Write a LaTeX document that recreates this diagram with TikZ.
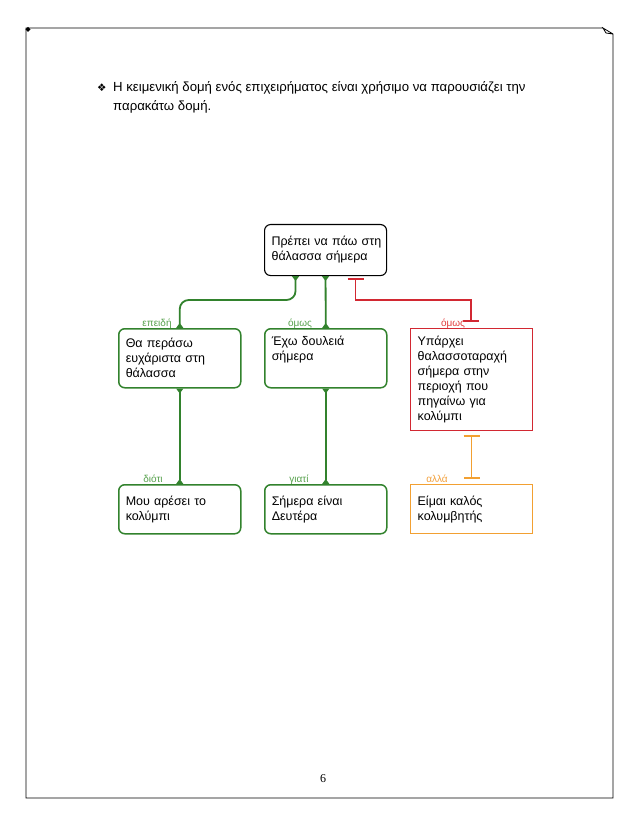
\documentclass[tikz,border=0pt]{standalone}
\usepackage{fontspec}
\setmainfont{Liberation Sans}
\newfontfamily\dejavu{DejaVu Sans}
\newfontfamily\serifnum{Liberation Serif}
\usetikzlibrary{arrows.meta,calc}
\definecolor{gline}{RGB}{50,130,45}
\definecolor{glab}{RGB}{85,160,75}
\definecolor{rline}{RGB}{210,40,50}
\definecolor{rlab}{RGB}{225,60,60}
\definecolor{oline}{RGB}{242,160,50}
\definecolor{olab}{RGB}{242,160,60}
\newcommand\bxl[1]{\mbox{#1}}
\begin{document}
\begin{tikzpicture}[x=1pt,y=-1pt,
  boxbase/.style={draw, anchor=north west, inner xsep=7pt, inner ysep=0pt, align=left,
    font=\fontsize{12.5}{15}\selectfont, text width=108pt, minimum width=122pt},
  gbox/.style={boxbase, draw=gline, rounded corners=6pt, line width=1.5pt},
  kbox/.style={boxbase, draw=black, rounded corners=6pt, line width=1.1pt},
  rbox/.style={boxbase, draw=rline, line width=1.3pt},
  obox/.style={boxbase, draw=oline, line width=1.3pt},
  flare/.tip={Triangle[reversed,length=5pt,width=7pt]},
  gconn/.style={draw=gline, line width=1.8pt, {flare}-{flare}},
  tbar/.tip={Bar[width=16pt,line width=1.8pt]},
  rconn/.style={draw=rline, line width=1.4pt, {tbar}-{tbar}},
  oconn/.style={draw=oline, line width=1.4pt, {tbar}-{tbar}},
  lab/.style={anchor=base, inner sep=0pt, font=\fontsize{10}{12}\selectfont},
  hdrline/.style={anchor=base west, inner sep=0pt, font=\fontsize{13.2}{16}\selectfont},
]
\useasboundingbox (0,0) rectangle (638,826);

% page frame with folded corner
\draw[line width=0.8pt] (603,28) -- (26,28) -- (26,798) -- (613,798) -- (613,34) -- (603,28) -- (606,33) -- (613,34);
\fill (28,27) -- (30.5,29.5) -- (28,32) -- (25.5,29.5) -- cycle;

% header
\node[anchor=base west, inner sep=0pt, font=\dejavu\fontsize{10.5}{12}\selectfont] (bul) at (97,92) {❖};
\node[hdrline] (hdr1) at (113,92) {Η κειμενική δομή ενός επιχειρήματος είναι χρήσιμο να παρουσιάζει την};
\node[hdrline] (hdr2) at (113,111) {παρακάτω δομή.};

% boxes
\node[kbox, minimum height=51pt] (top) at (264,224) {\bxl{Πρέπει να πάω στη}\\\bxl{θάλασσα σήμερα}};
\node[gbox, minimum height=59pt] (left) at (118,328) {\bxl{Θα περάσω}\\\bxl{ευχάριστα στη}\\\bxl{θάλασσα}};
\node[gbox, minimum height=59pt] (mid) at (264,328) {\bxl{Έχω δουλειά}\\\bxl{σήμερα}\\\strut};
\node[rbox, minimum height=102pt] (red) at (410,328) {\bxl{Υπάρχει}\\\bxl{θαλασσοταραχή}\\\bxl{σήμερα στην}\\\bxl{περιοχή που}\\\bxl{πηγαίνω για}\\\bxl{κολύμπι}};
\node[gbox, minimum height=49pt] (bl) at (118,484) {\bxl{Μου αρέσει το}\\\bxl{κολύμπι}};
\node[gbox, minimum height=49pt] (bc) at (264,484) {\bxl{Σήμερα είναι}\\\bxl{Δευτέρα}};
\node[obox, minimum height=49pt] (ora) at (410,484) {\bxl{Είμαι καλός}\\\bxl{κολυμβητής}};

% bend levels
\coordinate (lvl) at (0,300);
\coordinate (rturn) at (471,300);

% connectors
\draw[gconn, rounded corners=9pt] ([xshift=-30pt]top.south) |- (left.north |- lvl) -- (left.north);
\draw[gconn] (top.south) -- (mid.north);
\draw[rconn, shorten <=2pt, shorten >=6pt] ([xshift=30pt]top.south) |- (rturn) -- (rturn |- red.north);
\draw[gconn] (left.south) -- (bl.north);
\draw[gconn] (mid.south) -- (bc.north);
\draw[oconn, shorten <=4pt, shorten >=5pt] (red.south) -- (ora.north);

% labels
\node[lab, text=glab] (l1) at (157,326) {επειδή};
\node[lab, text=glab] (l2) at (300,326) {όμως};
\node[lab, text=rlab] (l3) at (453,326) {όμως};
\node[lab, text=glab] (l4) at (153,482) {διότι};
\node[lab, text=glab] (l5) at (299,482) {γιατί};
\node[lab, text=olab] (l6) at (437,482) {αλλά};

% page number
\node[anchor=base, inner sep=0pt, font=\serifnum\fontsize{12}{14}\selectfont] (pg) at (323,782) {6};
\end{tikzpicture}
\end{document}
